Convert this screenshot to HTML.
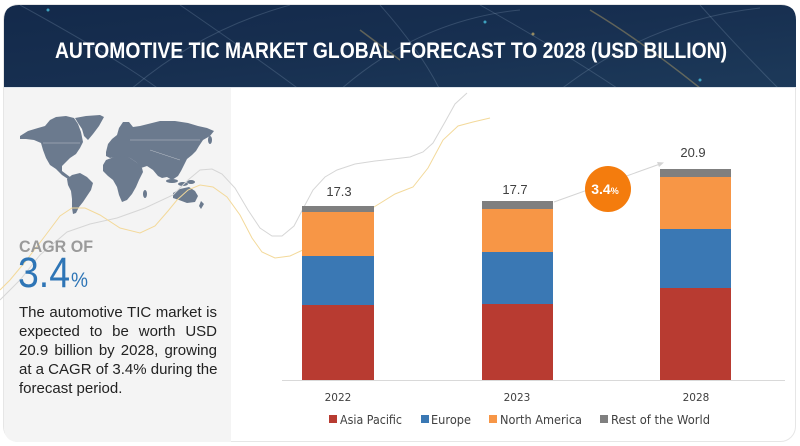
<!DOCTYPE html>
<html><head><meta charset="utf-8">
<style>
html,body{margin:0;padding:0;background:#fff;}
#wrap{position:relative;width:800px;height:446px;overflow:hidden;background:#fff;font-family:"Liberation Sans",sans-serif;}
svg{position:absolute;left:0;top:0;}
.para{position:absolute;left:19px;top:303px;width:198px;font-size:15px;line-height:19px;color:#222;}
.para div{white-space:nowrap;text-align:justify;text-align-last:justify;height:19px;}
.para div.last{text-align-last:left;}
</style></head><body>
<div id="wrap">
<svg width="800" height="446" viewBox="0 0 800 446" xmlns="http://www.w3.org/2000/svg">
  <defs>
    <linearGradient id="hg" x1="0" y1="0" x2="1" y2="1">
      <stop offset="0" stop-color="#13294a"/>
      <stop offset="0.5" stop-color="#172f50"/>
      <stop offset="1" stop-color="#1d3a5a"/>
    </linearGradient>
    <clipPath id="hc"><path d="M4,20 Q4,5 19,5 L781,5 Q796,5 796,20 L796,87 L4,87 Z"/></clipPath>
  </defs>
  <!-- card outline -->
  <rect x="3.5" y="4.5" width="792" height="437" rx="15" fill="#fff" stroke="#e6e6e6" stroke-width="1"/>
  <!-- left panel -->
  <path d="M4,88 L231,88 L231,442 L19,442 Q4,442 4,427 Z" fill="#f4f4f4"/>
  <!-- header -->
  <g clip-path="url(#hc)">
    <rect x="0" y="0" width="800" height="90" fill="url(#hg)"/>
    <g fill="none" stroke="#8fa6c0" stroke-opacity="0.25" stroke-width="1">
      <path d="M20,5 Q120,60 160,90"/>
      <path d="M130,90 Q200,30 290,5"/>
      <path d="M180,5 Q260,60 300,90"/>
      <path d="M340,90 Q420,20 520,10"/>
      <path d="M480,5 Q560,50 620,90"/>
      <path d="M560,90 Q650,20 760,8"/>
      <path d="M700,5 Q740,50 780,90"/>
      <path d="M380,5 Q420,50 440,90"/>
    </g>
    <g fill="none" stroke="#e8c46a" stroke-opacity="0.35" stroke-width="1.5">
      <path d="M590,10 Q640,40 700,88"/>
      <path d="M360,30 Q380,45 400,60"/>
    </g>
    <circle cx="48" cy="10" r="1.5" fill="#4fd3f0" opacity="0.7"/>
    <circle cx="485" cy="22" r="1.5" fill="#4fd3f0" opacity="0.7"/>
    <circle cx="700" cy="80" r="1.5" fill="#4fd3f0" opacity="0.7"/>
    <circle cx="533" cy="34" r="1.5" fill="#e8c46a" opacity="0.6"/>
    <text x="55" y="58" fill="#ffffff" font-family="Liberation Sans, sans-serif" font-size="22" font-weight="bold" textLength="672" lengthAdjust="spacingAndGlyphs">AUTOMOTIVE TIC MARKET GLOBAL FORECAST TO 2028 (USD BILLION)</text>
  </g>
  <line x1="4" y1="87.5" x2="796" y2="87.5" stroke="#dfe5ec" stroke-width="1"/>

  <!-- world map -->
  <g fill="#6b7a8e">
    <!-- North America -->
    <path d="M20,136 L28,131 L38,128 L45,126 L50,120 L56,117 L66,116 L74,118 L78,124 L81,132 L83,142 L80,148 L76,154 L70,158 L66,162 L62,166 L62,171 L66,174 L70,177 L68,179 L62,175 L56,169 L50,165 L46,158 L43,150 L41,143 L34,140 L26,139 L20,139 Z"/>
    <!-- Greenland -->
    <path d="M75,118 L86,116 L100,115 L104,117 L99,126 L93,134 L88,140 L84,136 L82,129 L78,123 Z"/>
    <!-- South America -->
    <path d="M67,179 L72,175 L80,173 L87,177 L93,183 L91,190 L87,196 L83,202 L79,207 L76,213 L73,214 L72,208 L72,199 L71,191 L68,185 Z"/>
    <!-- Eurasia -->
    <path d="M106,152 L108,144 L112,139 L117,135 L119,128 L123,122 L129,122 L133,127 L140,126 L148,124 L160,121 L175,121 L188,123 L198,126 L207,128 L214,131 L210,136 L203,140 L199,146 L196,151 L192,155 L187,159 L184,165 L181,171 L178,176 L172,180 L167,177 L162,178 L158,176 L153,170 L147,166 L141,168 L136,162 L130,158 L123,157 L116,157 L110,158 L106,156 Z"/>
    <!-- Africa -->
    <path d="M103,165 L106,160 L114,157 L123,156 L130,158 L136,162 L142,168 L143,172 L139,180 L136,187 L132,194 L127,200 L122,202 L119,195 L117,187 L113,180 L108,176 L103,171 Z"/>
    <!-- SE Asia islands -->
    <ellipse cx="172" cy="181" rx="6" ry="2"/>
    <ellipse cx="183" cy="184" rx="5" ry="2"/>
    <ellipse cx="191" cy="182" rx="4" ry="2"/>
    <ellipse cx="145" cy="194" rx="2" ry="4"/>
    <ellipse cx="210" cy="140" rx="2" ry="4"/>
    <!-- Australia -->
    <path d="M173,193 L180,189 L189,187 L195,191 L198,196 L195,202 L187,203 L179,200 L173,198 Z"/>
    <!-- NZ -->
    <path d="M201,201 L204,204 L201,209 L199,206 Z"/>
  </g>
  <g stroke="#f4f4f4" stroke-width="0.5" fill="none" opacity="0.6">
    <path d="M43,143 L80,143"/>
    <path d="M130,140 L200,140"/>
    <path d="M150,150 L180,160"/>
  </g>

  <!-- decorative curves -->
  <polyline fill="none" stroke="#d6d6d6" stroke-width="1" points="0,300 20,280 40,255 67,232 90,224 117,218 145,208 173,195 188,180 200,170 212,169 222,174 235,188 248,210 260,228 272,236 282,236 294,226 305,205 313,190 325,177 337,170 355,164 375,161 393,159 410,157 423,152 433,143 445,122 455,104 467,93"/>
  <polyline fill="none" stroke="#f3d99a" stroke-width="1" points="0,290 10,280 25,262 45,236 60,216 72,208 85,208 100,215 120,228 140,233 155,226 168,211 177,200 188,190 200,185 213,187 227,197 240,215 252,238 262,252 275,258 290,256 305,249 330,236 355,222 374,207 395,194 413,187 428,168 443,140 458,126 473,122 490,118"/>

  <!-- axis -->
  <line x1="282" y1="380.5" x2="785" y2="380.5" stroke="#d9d9d9" stroke-width="1"/>

  <!-- bars 2022 -->
  <rect x="302" y="305" width="72" height="75" fill="#b83b31"/>
  <rect x="302" y="256" width="72" height="49" fill="#3a78b4"/>
  <rect x="302" y="212" width="72" height="44" fill="#f79646"/>
  <rect x="302" y="206" width="72" height="6" fill="#7f7f7f"/>
  <!-- bars 2023 -->
  <rect x="482" y="304" width="71" height="76" fill="#b83b31"/>
  <rect x="482" y="252" width="71" height="52" fill="#3a78b4"/>
  <rect x="482" y="209" width="71" height="43" fill="#f79646"/>
  <rect x="482" y="201" width="71" height="8" fill="#7f7f7f"/>
  <!-- bars 2028 -->
  <rect x="660" y="288" width="71" height="92" fill="#b83b31"/>
  <rect x="660" y="229" width="71" height="59" fill="#3a78b4"/>
  <rect x="660" y="177" width="71" height="52" fill="#f79646"/>
  <rect x="660" y="169" width="71" height="8" fill="#7f7f7f"/>

  <!-- value labels -->
  <g font-family="Liberation Sans, DejaVu Sans, sans-serif" font-size="13" fill="#404040" text-anchor="middle">
    <text x="339" y="196">17.3</text>
    <text x="515" y="194">17.7</text>
    <text x="693" y="157">20.9</text>
  </g>

  <!-- arrow -->
  <line x1="554" y1="202" x2="660" y2="164" stroke="#d4d4d4" stroke-width="1"/>
  <path d="M664,162.5 L657,162 L659,167 Z" fill="#d4d4d4"/>
  <!-- CAGR bubble -->
  <circle cx="608" cy="189" r="23" fill="#f47c0d"/>
  <text x="605" y="194" fill="#fff" font-family="Liberation Sans, sans-serif" font-weight="bold" font-size="14" text-anchor="middle">3.4<tspan font-size="9">%</tspan></text>

  <!-- year labels -->
  <g font-family="DejaVu Sans, Liberation Sans, sans-serif" font-size="10.5" fill="#404040" text-anchor="middle">
    <text x="338" y="401">2022</text>
    <text x="517" y="401">2023</text>
    <text x="696" y="401">2028</text>
  </g>

  <!-- legend -->
  <rect x="329" y="415" width="8" height="8" fill="#b83b31"/>
  <rect x="421" y="415" width="8" height="8" fill="#3a78b4"/>
  <rect x="489" y="415" width="8" height="8" fill="#f79646"/>
  <rect x="600" y="415" width="8" height="8" fill="#7f7f7f"/>
  <g font-family="DejaVu Sans, Liberation Sans, sans-serif" font-size="12" fill="#404040">
    <text x="340" y="424" textLength="62" lengthAdjust="spacingAndGlyphs">Asia Pacific</text>
    <text x="431" y="424" textLength="40" lengthAdjust="spacingAndGlyphs">Europe</text>
    <text x="500" y="424" textLength="82" lengthAdjust="spacingAndGlyphs">North America</text>
    <text x="611" y="424" textLength="99" lengthAdjust="spacingAndGlyphs">Rest of the World</text>
  </g>

  <!-- CAGR text -->
  <text x="19" y="252" fill="#9a9a9a" font-family="Liberation Sans, sans-serif" font-weight="bold" font-size="17" textLength="74" lengthAdjust="spacingAndGlyphs">CAGR OF</text>
  <text x="18" y="287" fill="#2e75b6" font-family="Liberation Sans, sans-serif" font-size="43" textLength="52" lengthAdjust="spacingAndGlyphs">3.4</text>
  <text x="71" y="287" fill="#2e75b6" font-family="Liberation Sans, sans-serif" font-size="21" textLength="17" lengthAdjust="spacingAndGlyphs">%</text>
</svg>
<div class="para">
  <div>The automotive TIC market is</div>
  <div>expected to be worth USD</div>
  <div>20.9 billion by 2028, growing</div>
  <div>at a CAGR of 3.4% during the</div>
  <div class="last">forecast period.</div>
</div>
</div>
</body></html>
